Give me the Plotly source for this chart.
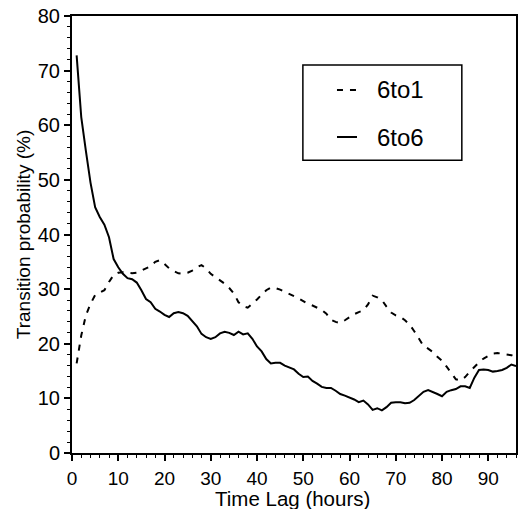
import plotly.graph_objects as go

hours = list(range(1, 97))

p_6to6 = [72.8, 61.5, 55.3, 49.5, 45.0, 43.2, 41.8, 39.5, 35.5, 34.0,
          32.8, 32.0, 31.8, 31.2, 29.8, 28.2, 27.6, 26.4, 25.9, 25.3,
          24.9, 25.6, 25.8, 25.6, 25.1, 24.2, 23.2, 21.8, 21.2, 20.9,
          21.2, 21.9, 22.2, 22.0, 21.6, 22.2, 21.7, 21.9, 20.9, 19.5,
          18.6, 17.2, 16.4, 16.5, 16.5, 16.0, 15.6, 15.3, 14.5, 13.9,
          14.0, 13.2, 12.7, 12.1, 11.9, 11.9, 11.4, 10.8, 10.5, 10.2,
          9.8, 9.3, 9.6, 8.9, 7.9, 8.2, 7.8, 8.4, 9.2, 9.3,
          9.3, 9.1, 9.2, 9.7, 10.5, 11.2, 11.5, 11.2, 10.8, 10.4,
          11.2, 11.5, 11.7, 12.2, 12.2, 11.9, 13.8, 15.2, 15.3, 15.2,
          14.9, 15.0, 15.2, 15.6, 16.2, 15.9]

p_6to1 = [16.4, 21.5, 25.2, 27.3, 28.9, 29.3, 29.8, 31.3, 32.6, 33.0,
          33.1, 33.0, 32.9, 33.0, 33.4, 33.8, 34.2, 35.0, 35.3, 34.6,
          33.8, 33.3, 32.9, 32.8, 33.0, 33.4, 34.0, 34.4, 33.8, 32.8,
          32.2, 31.6, 31.0, 30.2, 29.2, 27.6, 26.9, 26.6, 27.3, 28.1,
          29.0, 29.8, 30.3, 30.2, 29.9, 29.5, 29.2, 28.8, 28.3, 27.8,
          27.3, 27.0, 26.6, 26.2, 25.5, 24.4, 24.0, 23.8, 24.3, 24.9,
          25.4, 25.8, 26.1, 27.2, 28.8, 28.5, 28.0, 26.8, 25.7, 25.2,
          24.9, 24.3, 23.5, 22.3, 21.0, 19.6, 19.1, 18.5, 17.6, 16.9,
          15.8, 14.6, 13.5, 13.3, 13.9, 14.9, 15.8, 16.6, 17.3, 17.7,
          18.2, 18.3, 18.2, 18.1, 17.9, 17.5]

series_names = ["6to1", "6to6"]
x_ticks = [0, 10, 20, 30, 40, 50, 60, 70, 80, 90]
y_ticks = [0, 10, 20, 30, 40, 50, 60, 70, 80]
x_title = "Time Lag (hours)"
y_title = "Transition probability (%)"

FONT = "Liberation Sans, Arial, Helvetica, sans-serif"
DASH = "6px,7px"

fig = go.Figure()
fig.add_trace(go.Scatter(x=hours, y=p_6to1, mode="lines", name=series_names[0],
                         showlegend=False,
                         line=dict(color="black", width=2, dash=DASH)))
fig.add_trace(go.Scatter(x=hours, y=p_6to6, mode="lines", name=series_names[1],
                         showlegend=False,
                         line=dict(color="black", width=2)))

axis_common = dict(showgrid=False, zeroline=False, showline=True,
                   linecolor="black", linewidth=2, mirror=True,
                   ticks="outside", ticklen=6, tickwidth=1.5, tickcolor="black",
                   automargin=False)

fig.update_xaxes(range=[0, 96], tickvals=x_ticks, ticklabelstandoff=1,
                 tickfont=dict(family=FONT, size=19, color="black"),
                 minor=dict(dtick=2, ticks="outside", ticklen=3, tickcolor="black", tickwidth=1),
                 **axis_common)
fig.update_yaxes(range=[0, 80], tickvals=y_ticks,
                 tickfont=dict(family=FONT, size=20, color="black"),
                 minor=dict(dtick=2, ticks="outside", ticklen=3, tickcolor="black", tickwidth=1),
                 title=dict(text=y_title, font=dict(family=FONT, size=19, color="black"), standoff=2),
                 **axis_common)

# x-axis title as text annotation for exact placement
fig.add_annotation(x=0.497, y=-0.104, xref="paper", yref="paper", text=x_title,
                   showarrow=False, xanchor="center", yanchor="middle",
                   font=dict(family=FONT, size=20.5, color="black"))

# legend box drawn manually (style only)
fig.add_shape(type="rect", xref="paper", yref="paper",
              x0=0.520, x1=0.878, y0=0.670, y1=0.888,
              line=dict(color="black", width=1.5), fillcolor="white", layer="above")
legend_rows = [(0.8307, DASH), (0.7231, "solid")]
for (yy, dsh), nm in zip(legend_rows, series_names):
    fig.add_shape(type="line", xref="paper", yref="paper",
                  x0=0.5968, x1=0.6419, y0=yy, y1=yy,
                  line=dict(color="black", width=2, dash=dsh), layer="above")
    fig.add_annotation(x=0.6824, y=yy, xref="paper", yref="paper",
                       text=nm, showarrow=False, xanchor="left", yanchor="middle",
                       font=dict(family=FONT, size=24, color="black"))

fig.update_layout(
    width=519, height=509,
    margin=dict(l=72, r=3, t=16, b=56),
    paper_bgcolor="white", plot_bgcolor="white",
    font=dict(family=FONT, color="black"),
    showlegend=False,
)

fig.write_html("out.html")
